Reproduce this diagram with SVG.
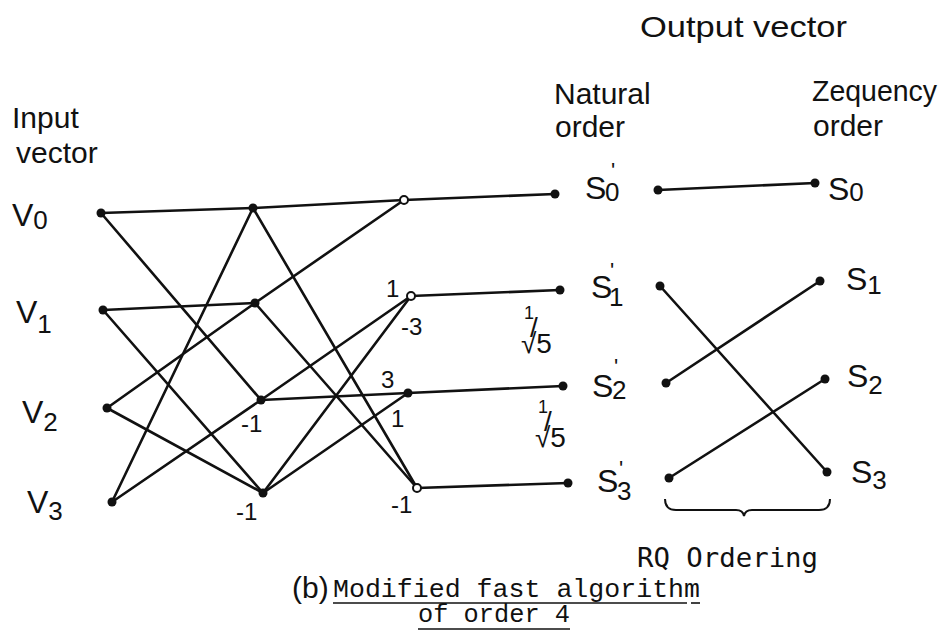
<svg xmlns="http://www.w3.org/2000/svg" width="946" height="637" viewBox="0 0 946 637">
<style>
.w{font-family:"Liberation Sans","DejaVu Sans",sans-serif;font-size:30px;fill:#111}
.L{font-family:"Liberation Sans","DejaVu Sans",sans-serif;font-size:32px;fill:#111}
.s{font-size:26px}
.pr{font-size:22px}
.n{font-family:"Liberation Sans","DejaVu Sans",sans-serif;font-size:24px;fill:#111}
.m{font-family:"Liberation Mono","Courier New",monospace;font-size:26px;fill:#111}
.g{font-family:"DejaVu Sans Mono","Liberation Mono",monospace;font-size:27px;fill:#111}
.e{stroke:#111;stroke-width:2.6;fill:none;stroke-linecap:round}
.d{fill:#111}
.o{fill:#fff;stroke:#111;stroke-width:2}
.u{stroke:#111;stroke-width:1.6}
</style>
<rect width="946" height="637" fill="#fff"/>

<g id="connectors">
<line class="e" x1="101" y1="213" x2="253" y2="208"/>
<line class="e" x1="101" y1="213" x2="261" y2="400"/>
<line class="e" x1="112" y1="502" x2="253" y2="208"/>
<line class="e" x1="112" y1="502" x2="261" y2="400"/>
<line class="e" x1="103" y1="310" x2="255" y2="303"/>
<line class="e" x1="103" y1="310" x2="263" y2="493"/>
<line class="e" x1="107" y1="408" x2="255" y2="303"/>
<line class="e" x1="107" y1="408" x2="263" y2="493"/>
<line class="e" x1="253" y1="208" x2="404" y2="200"/>
<line class="e" x1="255" y1="303" x2="404" y2="200"/>
<line class="e" x1="253" y1="208" x2="417" y2="488"/>
<line class="e" x1="255" y1="303" x2="417" y2="488"/>
<line class="e" x1="261" y1="400" x2="411" y2="296"/>
<line class="e" x1="263" y1="493" x2="411" y2="296"/>
<line class="e" x1="261" y1="400" x2="408" y2="393"/>
<line class="e" x1="263" y1="493" x2="408" y2="393"/>
<line class="e" x1="404" y1="200" x2="555" y2="194"/>
<line class="e" x1="411" y1="296" x2="560" y2="290"/>
<line class="e" x1="408" y1="393" x2="563" y2="386"/>
<line class="e" x1="417" y1="488" x2="568" y2="483"/>
<line class="e" x1="658" y1="190" x2="815" y2="183"/>
<line class="e" x1="660" y1="286" x2="827" y2="472"/>
<line class="e" x1="666" y1="383" x2="820" y2="281"/>
<line class="e" x1="669" y1="478" x2="825" y2="379"/>
</g>

<g id="title">
<text class="w" x="640" y="37" textLength="207" lengthAdjust="spacingAndGlyphs">Output vector</text>
<text class="w" x="12" y="128">Input</text>
<text class="w" x="16" y="163">vector</text>
<text class="w" x="554" y="104">Natural</text>
<text class="w" x="555" y="137">order</text>
<text class="w" x="812" y="101" textLength="125" lengthAdjust="spacingAndGlyphs">Zequency</text>
<text class="w" x="813" y="136">order</text>
</g>

<g id="V0"><circle class="d" cx="101" cy="213" r="4.5"/><text class="L" x="12" y="226">V<tspan class="s" y="229">0</tspan></text></g>
<g id="V1"><circle class="d" cx="103" cy="310" r="4.5"/><text class="L" x="16" y="323">V<tspan class="s" y="333">1</tspan></text></g>
<g id="V2"><circle class="d" cx="107" cy="408" r="4.5"/><text class="L" x="22" y="423">V<tspan class="s" y="431">2</tspan></text></g>
<g id="V3"><circle class="d" cx="112" cy="502" r="4.5"/><text class="L" x="27" y="513">V<tspan class="s" y="520">3</tspan></text></g>

<g id="A"><circle class="d" cx="253" cy="208" r="4.5"/></g>
<g id="B"><circle class="d" cx="255" cy="303" r="4.5"/></g>
<g id="C"><circle class="d" cx="261" cy="400" r="4.5"/><text class="n" x="241" y="432">-1</text></g>
<g id="D"><circle class="d" cx="263" cy="493" r="4.5"/><text class="n" x="236" y="520">-1</text></g>

<g id="E"><circle class="o" cx="404" cy="200" r="4"/></g>
<g id="F"><circle class="o" cx="411" cy="296" r="4"/><text class="n" x="386" y="297">1</text><text class="n" x="401" y="335">-3</text></g>
<g id="G"><circle class="d" cx="408" cy="393" r="4.5"/><text class="n" x="381" y="388">3</text><text class="n" x="391" y="427">1</text></g>
<g id="H"><circle class="o" cx="417" cy="488" r="4"/><text class="n" x="391" y="513">-1</text></g>

<g id="scale1"><text class="n" x="524" y="319"><tspan font-size="18">1</tspan><tspan x="530" y="337" font-size="28">/</tspan><tspan x="521" y="353" font-size="28">√5</tspan></text></g>
<g id="scale2"><text class="n" x="538" y="413"><tspan font-size="18">1</tspan><tspan x="544" y="431" font-size="28">/</tspan><tspan x="535" y="447" font-size="28">√5</tspan></text></g>

<g id="P0"><circle class="d" cx="555" cy="194" r="4.5"/><text class="L" x="585" y="199">S<tspan class="pr" x="611" y="178">'</tspan><tspan class="s" x="605" y="201">0</tspan></text></g>
<g id="P1"><circle class="d" cx="560" cy="290" r="4.5"/><text class="L" x="591" y="298">S<tspan class="pr" x="610" y="278">'</tspan><tspan class="s" x="609" y="306">1</tspan></text></g>
<g id="P2"><circle class="d" cx="563" cy="386" r="4.5"/><text class="L" x="592" y="397">S<tspan class="pr" x="614" y="374">'</tspan><tspan class="s" x="612" y="399">2</tspan></text></g>
<g id="P3"><circle class="d" cx="568" cy="483" r="4.5"/><text class="L" x="597" y="492">S<tspan class="pr" x="619" y="476">'</tspan><tspan class="s" x="617" y="500">3</tspan></text></g>

<g id="Q0"><circle class="d" cx="658" cy="190" r="4.5"/></g>
<g id="Q1"><circle class="d" cx="660" cy="286" r="4.5"/></g>
<g id="Q2"><circle class="d" cx="666" cy="383" r="4.5"/></g>
<g id="Q3"><circle class="d" cx="669" cy="478" r="4.5"/></g>

<g id="R0"><circle class="d" cx="815" cy="183" r="4.5"/><text class="L" x="828" y="200">S<tspan class="s" y="201">0</tspan></text></g>
<g id="R1"><circle class="d" cx="820" cy="281" r="4.5"/><text class="L" x="846" y="290">S<tspan class="s" y="294">1</tspan></text></g>
<g id="R2"><circle class="d" cx="825" cy="379" r="4.5"/><text class="L" x="847" y="387">S<tspan class="s" y="394">2</tspan></text></g>
<g id="R3"><circle class="d" cx="827" cy="472" r="4.5"/><text class="L" x="851" y="483">S<tspan class="s" y="489">3</tspan></text></g>

<g id="brace">
<path d="M665,499 Q665,510 676,510 L736,510 Q743,510 744,516 Q745,510 752,510 L819,510 Q830,510 830,499" fill="none" stroke="#111" stroke-width="2"/>
<text class="g" x="637" y="567" textLength="181" lengthAdjust="spacingAndGlyphs">RQ Ordering</text>
</g>

<g id="caption">
<text class="w" x="292" y="598">(b)</text>
<text class="m" x="333" y="597" textLength="367" lengthAdjust="spacingAndGlyphs">Modified fast algorithm</text>
<line class="u" x1="333" y1="603" x2="687" y2="603"/>
<line class="u" x1="691" y1="603" x2="700" y2="603"/>
<text class="m" x="418" y="622" textLength="152" lengthAdjust="spacingAndGlyphs">of order 4</text>
<line class="u" x1="418" y1="629" x2="570" y2="629"/>
</g>
</svg>
